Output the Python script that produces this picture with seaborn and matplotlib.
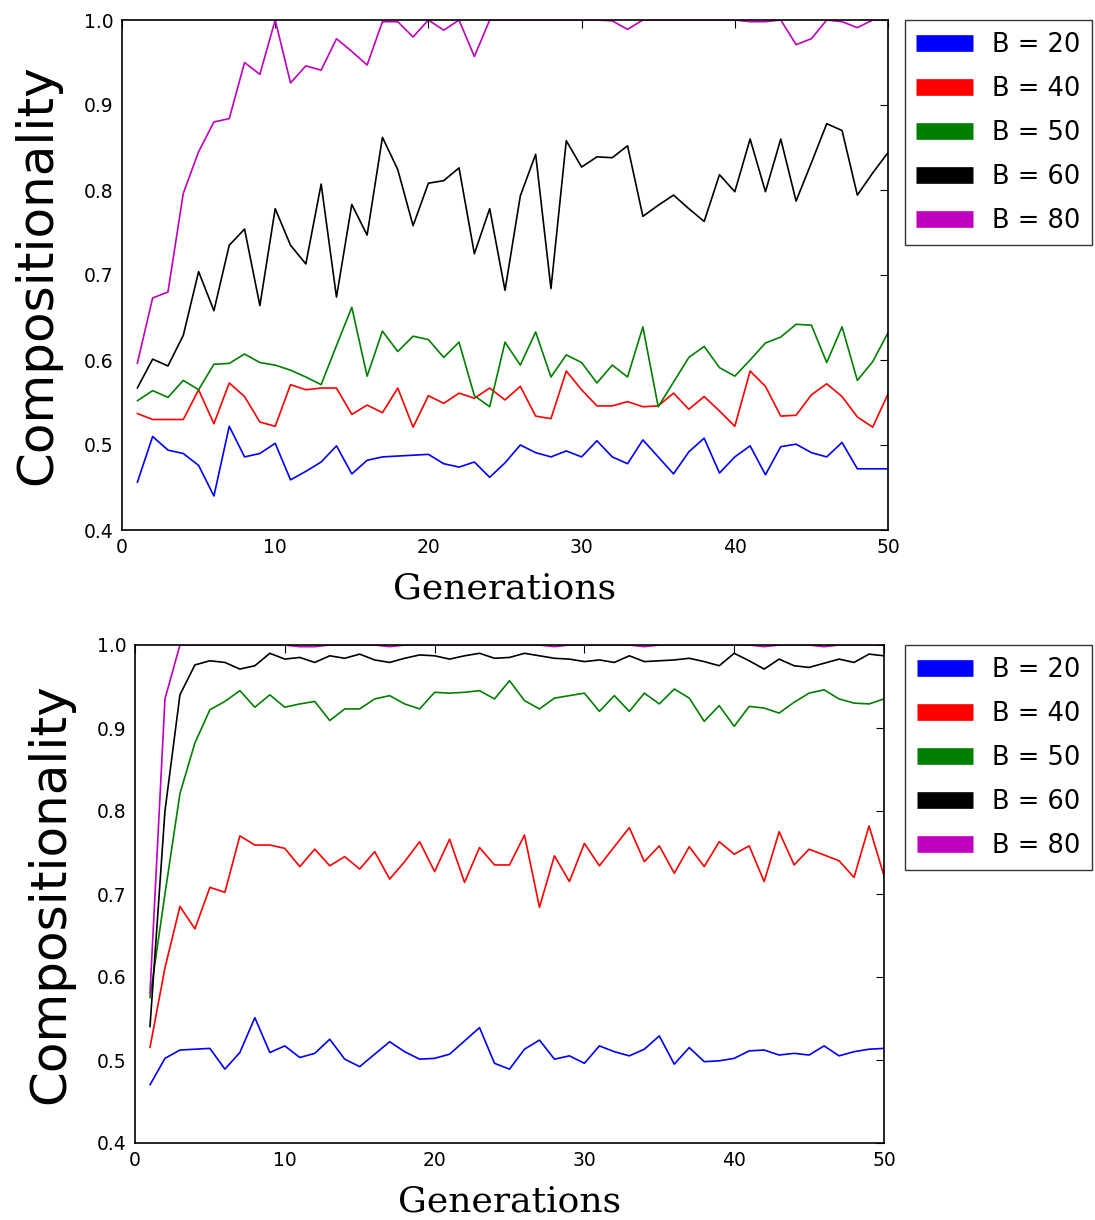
import numpy as np
import pandas as pd
import matplotlib
matplotlib.use("Agg")
import matplotlib.pyplot as plt
import seaborn as sns

generations = list(range(1, 51))
labels = ["B = 20", "B = 40", "B = 50", "B = 60", "B = 80"]
colors = ["#0000ff", "#ff0000", "#008000", "#000000", "#bf00bf"]

# ---- top panel ----
top_b20 = [0.456, 0.510, 0.494, 0.490, 0.476, 0.440, 0.522, 0.486, 0.490, 0.502,
           0.459, 0.469, 0.480, 0.499, 0.466, 0.482, 0.486, 0.487, 0.488, 0.489,
           0.478, 0.474, 0.480, 0.462, 0.479, 0.500, 0.491, 0.486, 0.493, 0.486,
           0.505, 0.486, 0.478, 0.506, 0.486, 0.466, 0.492, 0.508, 0.467, 0.486,
           0.499, 0.465, 0.498, 0.501, 0.491, 0.486, 0.503, 0.472, 0.472, 0.472]
top_b40 = [0.537, 0.530, 0.530, 0.530, 0.565, 0.525, 0.573, 0.557, 0.527, 0.522,
           0.571, 0.565, 0.567, 0.567, 0.536, 0.547, 0.538, 0.567, 0.521, 0.558,
           0.549, 0.561, 0.555, 0.567, 0.553, 0.569, 0.534, 0.531, 0.587, 0.565,
           0.546, 0.546, 0.551, 0.545, 0.546, 0.561, 0.542, 0.557, 0.540, 0.522,
           0.587, 0.569, 0.534, 0.535, 0.559, 0.572, 0.557, 0.533, 0.521, 0.560]
top_b50 = [0.552, 0.564, 0.556, 0.576, 0.565, 0.595, 0.596, 0.607, 0.597, 0.594,
           0.588, 0.580, 0.571, 0.617, 0.662, 0.581, 0.634, 0.610, 0.628, 0.624,
           0.603, 0.621, 0.558, 0.545, 0.621, 0.594, 0.633, 0.580, 0.606, 0.597,
           0.573, 0.594, 0.580, 0.639, 0.545, 0.574, 0.603, 0.616, 0.591, 0.581,
           0.600, 0.620, 0.627, 0.642, 0.641, 0.597, 0.639, 0.576, 0.598, 0.632]
top_b60 = [0.567, 0.601, 0.593, 0.629, 0.704, 0.658, 0.735, 0.754, 0.664, 0.778,
           0.735, 0.713, 0.807, 0.674, 0.783, 0.747, 0.862, 0.824, 0.758, 0.808,
           0.811, 0.826, 0.725, 0.778, 0.682, 0.793, 0.842, 0.684, 0.858, 0.827,
           0.839, 0.838, 0.852, 0.769, 0.782, 0.794, 0.778, 0.763, 0.818, 0.798,
           0.860, 0.798, 0.860, 0.787, 0.832, 0.878, 0.870, 0.794, 0.820, 0.844]
top_b80 = [0.596, 0.673, 0.680, 0.796, 0.845, 0.880, 0.884, 0.950, 0.936, 1.000,
           0.926, 0.946, 0.941, 0.978, 0.963, 0.947, 0.998, 0.998, 0.980, 1.000,
           0.988, 1.000, 0.957, 1.000, 1.000, 1.000, 1.000, 1.000, 1.000, 1.000,
           1.000, 0.999, 0.989, 1.000, 1.000, 1.000, 1.000, 1.000, 1.000, 1.000,
           0.998, 0.998, 1.000, 0.971, 0.978, 1.000, 0.998, 0.991, 1.000, 1.000]

# ---- bottom panel ----
bot_b20 = [0.470, 0.502, 0.512, 0.513, 0.514, 0.489, 0.509, 0.551, 0.509, 0.517,
           0.503, 0.508, 0.525, 0.501, 0.492, 0.507, 0.522, 0.510, 0.501, 0.502,
           0.507, 0.523, 0.539, 0.496, 0.489, 0.513, 0.524, 0.501, 0.505, 0.496,
           0.517, 0.510, 0.505, 0.513, 0.529, 0.495, 0.515, 0.498, 0.499, 0.502,
           0.511, 0.512, 0.506, 0.508, 0.506, 0.517, 0.505, 0.510, 0.513, 0.514]
bot_b40 = [0.515, 0.611, 0.685, 0.658, 0.708, 0.702, 0.770, 0.759, 0.759, 0.755,
           0.733, 0.754, 0.734, 0.745, 0.730, 0.751, 0.718, 0.739, 0.763, 0.727,
           0.766, 0.714, 0.756, 0.735, 0.735, 0.771, 0.684, 0.746, 0.715, 0.761,
           0.734, 0.757, 0.780, 0.739, 0.758, 0.725, 0.757, 0.733, 0.763, 0.748,
           0.758, 0.715, 0.775, 0.735, 0.754, 0.747, 0.740, 0.720, 0.782, 0.722]
bot_b50 = [0.575, 0.700, 0.821, 0.882, 0.922, 0.932, 0.945, 0.925, 0.940, 0.925,
           0.929, 0.932, 0.909, 0.923, 0.923, 0.935, 0.939, 0.929, 0.923, 0.943,
           0.942, 0.943, 0.945, 0.935, 0.957, 0.933, 0.923, 0.936, 0.939, 0.942,
           0.920, 0.939, 0.920, 0.942, 0.929, 0.947, 0.936, 0.908, 0.927, 0.902,
           0.926, 0.924, 0.918, 0.931, 0.942, 0.946, 0.935, 0.930, 0.929, 0.935]
bot_b60 = [0.540, 0.800, 0.940, 0.976, 0.981, 0.979, 0.971, 0.975, 0.990, 0.983,
           0.985, 0.979, 0.987, 0.984, 0.989, 0.982, 0.979, 0.984, 0.988, 0.987,
           0.983, 0.987, 0.990, 0.984, 0.985, 0.990, 0.987, 0.984, 0.983, 0.980,
           0.982, 0.979, 0.987, 0.980, 0.981, 0.982, 0.984, 0.980, 0.975, 0.990,
           0.981, 0.971, 0.983, 0.975, 0.973, 0.978, 0.983, 0.979, 0.989, 0.987]
bot_b80 = [0.580, 0.935, 1.000, 1.000, 1.000, 1.000, 1.000, 1.000, 1.000, 1.000,
           0.998, 0.998, 1.000, 1.000, 1.000, 1.000, 0.998, 1.000, 1.000, 1.000,
           1.000, 1.000, 1.000, 1.000, 1.000, 1.000, 1.000, 0.998, 1.000, 1.000,
           1.000, 1.000, 1.000, 0.998, 1.000, 1.000, 1.000, 1.000, 1.000, 1.000,
           1.000, 0.998, 1.000, 1.000, 1.000, 0.998, 1.000, 1.000, 1.000, 1.000]

top_series = [top_b20, top_b40, top_b50, top_b60, top_b80]
bot_series = [bot_b20, bot_b40, bot_b50, bot_b60, bot_b80]

sns.set_theme(style="white")
plt.rcParams.update({
    "font.family": ["DejaVu Sans"],
    "text.color": "black",
    "axes.labelcolor": "black",
    "xtick.direction": "in",
    "ytick.direction": "in",
    "xtick.top": True,
    "ytick.right": True,
    "xtick.major.size": 6,
    "ytick.major.size": 6,
    "xtick.major.width": 0.8,
    "ytick.major.width": 0.8,
    "xtick.color": "black",
    "ytick.color": "black",
    "xtick.labelcolor": "black",
    "ytick.labelcolor": "black",
    "axes.edgecolor": "black",
    "axes.linewidth": 1.2,
})


def make_df(series_list):
    frames = []
    for lab, vals in zip(labels, series_list):
        frames.append(pd.DataFrame({"Generations": generations,
                                    "Compositionality": vals,
                                    "B": lab}))
    return pd.concat(frames, ignore_index=True)


fig = plt.figure(figsize=(10.95, 12.2), dpi=100)
ax1 = fig.add_axes([122 / 1095, (1220 - 530) / 1220, 766 / 1095, 510 / 1220])
ax2 = fig.add_axes([135 / 1095, (1220 - 1143) / 1220, 749 / 1095, 498 / 1220])

palette = dict(zip(labels, colors))

for ax, series, gap in [(ax1, top_series, 1.022), (ax2, bot_series, 1.028)]:
    df = make_df(series)
    sns.lineplot(data=df, x="Generations", y="Compositionality", hue="B",
                 palette=palette, linewidth=1.2, ax=ax, legend=False)
    ax.set_xlim(0, 50)
    ax.set_ylim(0.4, 1.0)
    ax.set_xticks([0, 10, 20, 30, 40, 50])
    ax.set_yticks([0.4, 0.5, 0.6, 0.7, 0.8, 0.9, 1.0])
    ax.set_yticklabels(["0.4", "0.5", "0.6", "0.7", "0.8", "0.9", "1.0"])
    ax.tick_params(axis="both", labelsize=13.5, pad=6)
    ax.set_xlabel("Generations", family="DejaVu Serif", fontsize=26, labelpad=10)
    ax.set_ylabel("Compositionality", fontsize=36, labelpad=16)
    for sp in ax.spines.values():
        sp.set_visible(True)
        sp.set_color("black")
    handles = [plt.Line2D([], [], color=c, linewidth=12, solid_capstyle="butt")
               for c in colors]
    leg = ax.legend(handles, labels, loc="upper left", bbox_to_anchor=(gap, 1.0),
                    borderaxespad=0, fontsize=18.5, frameon=True, fancybox=False,
                    handlelength=2.2, labelspacing=0.7, handletextpad=0.75,
                    borderpad=0.45)
    leg.get_frame().set_edgecolor("black")
    leg.get_frame().set_linewidth(1.0)
    for t in leg.get_texts():
        t.set_color("black")

fig.savefig("out.png", dpi=100, facecolor="white")
